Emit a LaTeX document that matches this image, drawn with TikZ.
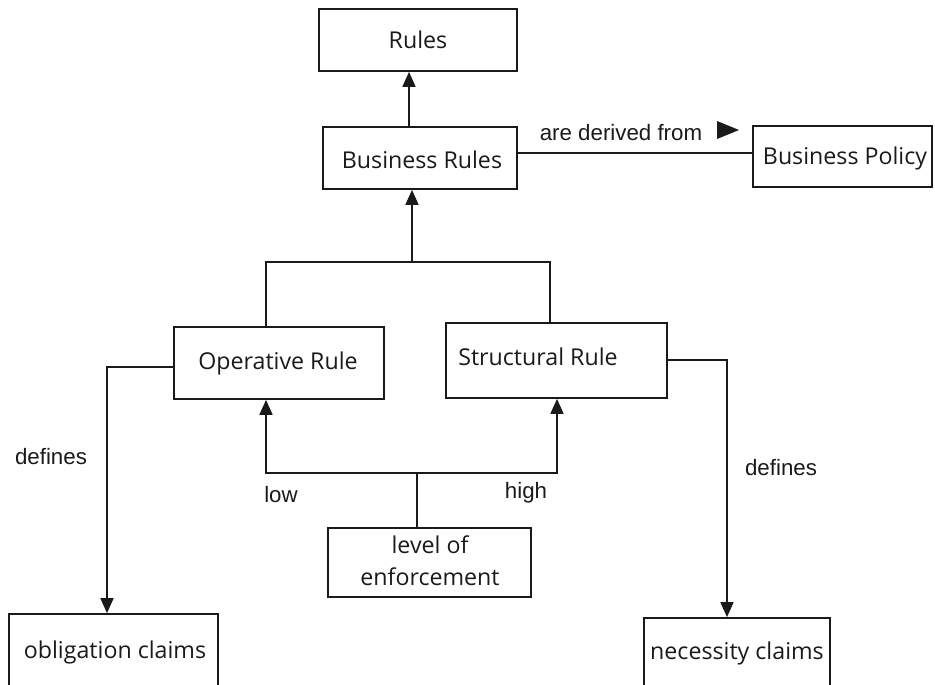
\documentclass[tikz,border=0pt]{standalone}
\usepackage{fontspec}
\setmainfont{Open Sans}
\newfontfamily\labelfont{Liberation Sans}
\usetikzlibrary{arrows.meta}
\definecolor{ink}{HTML}{1A1A1A}
\tikzset{
  boxfont/.style={font=\fontsize{23.2}{32}\selectfont},
  box/.style={draw=ink, line width=1.7pt, rectangle, inner sep=0pt, text=ink,
              boxfont, align=center},
  btxt/.style={text=ink, inner sep=0pt, boxfont},
  lbl/.style={text=ink, inner sep=0pt, font=\labelfont\fontsize{22.3}{24}\selectfont},
  conn/.style={draw=ink, line width=1.7pt},
  tri/.style={-{Triangle[length=15pt,width=13pt]}},
}
\begin{document}
\begin{tikzpicture}[x=1pt,y=-1pt]
\useasboundingbox (0,0) rectangle (935,685);
\clip (0,0) rectangle (935,685);
% boxes
\node[box, minimum width=198pt, minimum height=62pt] (rules) at (418,40) {};
\node[btxt] (rulestxt) at (418,40) {Rules};
\node[box, minimum width=194pt, minimum height=62pt] (br) at (420,158) {};
\node[btxt] (brtxt) at (422,160) {Business Rules};
\node[box, minimum width=179pt, minimum height=61pt] (bp) at (842.5,156.5) {};
\node[btxt] (bptxt) at (845,158) {Business Policy};
\node[box, minimum width=210pt, minimum height=72pt] (op) at (279,363) {};
\node[btxt] (optxt) at (278,363) {Operative Rule};
\node[box, minimum width=221pt, minimum height=75pt] (st) at (556.5,360.5) {};
\node[btxt] (sttxt) at (538,357) {Structural Rule};
\node[box, minimum width=203pt, minimum height=69pt] (lv) at (429.5,562.5) {};
\node[btxt] (lvtxt1) at (430,545) {level of};
\node[btxt] (lvtxt2) at (430,577) {enforcement};
\node[box, minimum width=209pt, minimum height=90pt] (ob) at (113.5,659) {};
\node[btxt] (obtxt) at (115,652) {obligation claims};
\node[box, minimum width=186pt, minimum height=90pt] (ne) at (737,663) {};
\node[btxt] (netxt) at (737,653) {necessity claims};
% junctions
\coordinate (j1) at (412,262);
\coordinate (j2) at (417,473);
\coordinate (bl) at (0,153);
\coordinate (ol) at (0,367);
\coordinate (sr) at (0,360);
\coordinate (obx) at (107,0);
\coordinate (nex) at (727,0);
\coordinate (opx) at (266,0);
\coordinate (stx) at (550,0);
\coordinate (stx2) at (557,0);
\coordinate (rx) at (409,0);
% connectors
\draw[conn, tri] (rx |- br.north) -- (rx |- rules.south);
\draw[conn] (br.east |- bl) -- (bp.west |- bl);
\draw[conn, tri] (j1) -- (j1 |- br.south);
\draw[conn] (opx |- op.north) |- (j1) -| (stx |- st.north);
\draw[conn] (j2 |- lv.north) -- (j2);
\draw[conn, tri] (j2) -| (opx |- op.south);
\draw[conn, tri] (j2) -| (stx2 |- st.south);
\draw[conn, tri] (op.west |- ol) -| (obx |- ob.north);
\draw[conn, tri] (st.east |- sr) -| (nex |- ne.north);
% labels
\node[lbl] (l1) at (621,133) {are derived from};
\fill[ink] (717,121) -- (739,130) -- (717,139) -- cycle;
\node[lbl] (l2) at (51,457) {defines};
\node[lbl] (l3) at (781,468) {defines};
\node[lbl] (l4) at (281,495) {low};
\node[lbl] (l5) at (526,493) {high};
\end{tikzpicture}
\end{document}
